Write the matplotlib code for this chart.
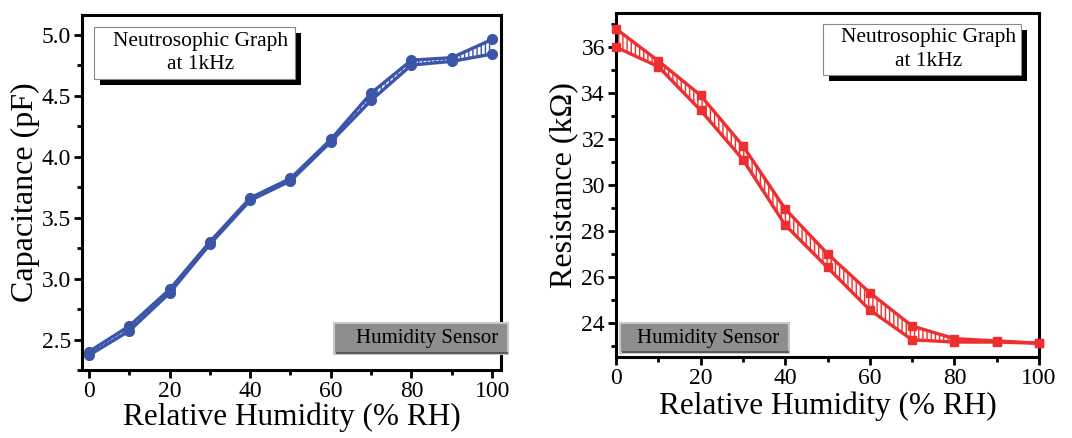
import matplotlib.pyplot as plt
from matplotlib.patches import Rectangle
from matplotlib.ticker import MultipleLocator

# relative humidity steps (% RH)
rh = [0, 10, 20, 30, 40, 50, 60, 70, 80, 90, 100]

# capacitance at 1 kHz (pF), upper / lower bound of neutrosophic band
cap_upper = [2.40, 2.61, 2.91, 3.30, 3.66, 3.82, 4.14, 4.52, 4.79, 4.81, 4.96]
cap_lower = [2.37, 2.57, 2.88, 3.28, 3.64, 3.80, 4.12, 4.46, 4.75, 4.78, 4.84]

# resistance at 1 kHz (kOhm), upper / lower bound
res_upper = [36.8, 35.4, 33.9, 31.7, 28.95, 27.0, 25.3, 23.85, 23.3, 23.2, 23.1]
res_lower = [36.0, 35.15, 33.25, 31.1, 28.25, 26.4, 24.55, 23.25, 23.15, 23.15, 23.1]

blue = '#3b55a9'
red = '#ee2f2f'
W, H = 1072, 438

plt.rcParams['font.family'] = ['Liberation Serif', 'DejaVu Serif']
plt.rcParams['hatch.linewidth'] = 1.0

fig = plt.figure(figsize=(W / 100, H / 100), dpi=100)


def px_rect(x0, y0, x1, y1, **kw):
    """rectangle in figure pixel coords (y from top)"""
    r = Rectangle((x0 / W, 1 - y1 / H), (x1 - x0) / W, (y1 - y0) / H,
                  transform=fig.transFigure, **kw)
    fig.add_artist(r)
    return r


def style_axes(ax):
    for s in ax.spines.values():
        s.set_linewidth(2.2)
    ax.tick_params(which='major', direction='out', length=6, width=2,
                   labelsize=17, pad=2, top=False, right=False)
    ax.tick_params(which='minor', direction='out', length=3.5, width=2,
                   top=False, right=False)


def graph_box(x0, y0, x1, y1):
    px_rect(x0 + 6, y0 + 6, x1 + 6, y1 + 6, facecolor='black', edgecolor='none', zorder=5)
    px_rect(x0, y0, x1, y1, facecolor='white', edgecolor='#888888', lw=0.8, zorder=6)
    fig.text((x0 + x1) / 2 / W + 0.006, 1 - (y0 + y1) / 2 / H, 'Neutrosophic Graph\nat 1kHz',
             ha='center', va='center', fontsize=15.5, linespacing=1.3, zorder=7)


def sensor_box(x0, y0, x1, y1):
    px_rect(x0, y0, x1, y1, facecolor='#8e8e8e', edgecolor='#c8c8c8', lw=1.5, zorder=6)
    px_rect(x0 + 1.5, y1 - 2, x1, y1, facecolor='#5a5a5a', edgecolor='none', zorder=6)
    fig.text((x1 - 10) / W, 1 - (y0 + y1) / 2 / H, 'Humidity Sensor',
             ha='right', va='center', fontsize=15, zorder=7)


# ---- capacitance ----
ax1 = fig.add_axes([82 / W, 1 - 370 / H, (501 - 82) / W, (370 - 15) / H])
ax1.fill_between(rh, cap_lower, cap_upper, facecolor='white', edgecolor=blue,
                 hatch='||||', linewidth=0, zorder=2)
ax1.plot(rh, cap_upper, '-o', color=blue, lw=2.4, ms=7, zorder=3)
ax1.plot(rh, cap_lower, '-o', color=blue, lw=2.4, ms=7, zorder=3)
ax1.set_xlim(-1.7, 102.2)
ax1.set_ylim(2.25, 5.16)
ax1.xaxis.set_major_locator(MultipleLocator(20))
ax1.xaxis.set_minor_locator(MultipleLocator(10))
ax1.yaxis.set_major_locator(MultipleLocator(0.5))
ax1.yaxis.set_minor_locator(MultipleLocator(0.25))
ax1.yaxis.set_major_formatter(plt.FormatStrFormatter('%.1f'))
style_axes(ax1)
ax1.set_xlabel('Relative Humidity (% RH)', fontsize=22.5, labelpad=0)
ax1.set_ylabel('Capacitance (pF)', fontsize=23, labelpad=1)

# ---- resistance ----
ax2 = fig.add_axes([616 / W, 1 - 357 / H, (1039 - 616) / W, (357 - 12.7) / H])
ax2.fill_between(rh, res_lower, res_upper, facecolor='white', edgecolor=red,
                 hatch='||||', linewidth=0, zorder=2)
ax2.plot(rh, res_upper, '-s', color=red, lw=2.4, ms=6, zorder=3, clip_on=False)
ax2.plot(rh, res_lower, '-s', color=red, lw=2.4, ms=6, zorder=3, clip_on=False)
ax2.set_xlim(0, 100)
ax2.set_ylim(22.5, 37.5)
ax2.xaxis.set_major_locator(MultipleLocator(20))
ax2.xaxis.set_minor_locator(MultipleLocator(10))
ax2.yaxis.set_major_locator(MultipleLocator(2))
ax2.yaxis.set_minor_locator(MultipleLocator(1))
style_axes(ax2)
ax2.set_xlabel('Relative Humidity (% RH)', fontsize=22.5, labelpad=2)
ax2.set_ylabel('Resistance (k\u03a9)', fontsize=23, labelpad=2)

graph_box(94, 27, 295, 79)
sensor_box(334, 323, 508, 354)
graph_box(823, 24, 1021, 75)
sensor_box(620, 323, 789, 353)

fig.savefig('out.png', dpi=100)
